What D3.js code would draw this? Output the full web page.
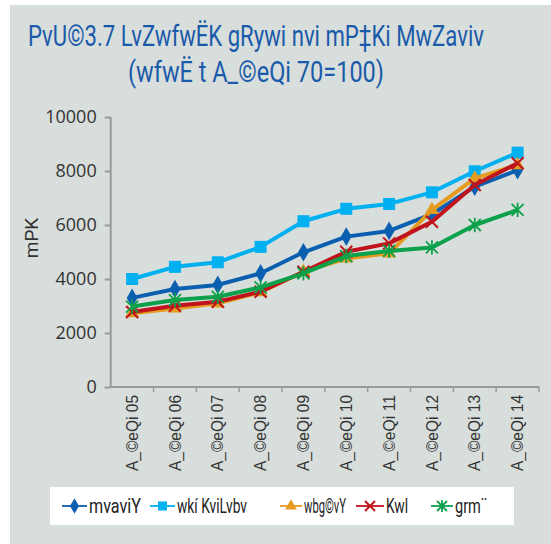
<!DOCTYPE html>
<html><head><meta charset="utf-8">
<script src="https://cdn.jsdelivr.net/npm/d3@7"></script>
<style>
html,body{margin:0;padding:0;background:#fff;}
svg{display:block;}
</style></head>
<body>
<script>
const categories = ["05","06","07","08","09","10","11","12","13","14"];
const yearPrefix = "A_©eQi ";
const seriesNames = ["mvaviY","wkí KviLvbv","wbg©vY","Kwl","grm¨"];
const generalValues   = [3300,3630,3780,4210,4990,5570,5780,6400,7420,8030];
const industryValues  = [4000,4450,4620,5190,6140,6600,6780,7210,7990,8680];
const constructValues = [2730,2910,3100,3510,4270,4760,4950,6560,7730,8220];
const agriValues      = [2780,3010,3160,3530,4270,5010,5320,6120,7480,8290];
const fishValues      = [2980,3220,3340,3690,4210,4850,5040,5170,6000,6560];
const yTicks = [0,2000,4000,6000,8000,10000];
const titleLine1 = "PvU©3.7 LvZwfwËK gRywi nvi mP‡Ki MwZaviv";
const titleLine2 = "(wfwË t A_©eQi 70=100)";
const yAxisLabel = "mPK";

const W = 551, H = 544;
const svg = d3.select("body").append("svg").attr("width", W).attr("height", H);
svg.append("rect").attr("x",10).attr("y",5).attr("width",W-10).attr("height",H-5).attr("fill","#d8dedb");

const condensed = "Roboto,'Liberation Sans Narrow',sans-serif";
// Title (narrow, tall glyphs: smaller font stretched vertically)
svg.append("text").attr("transform","translate(28,46) scale(1,1.3)").attr("fill","#1a5aaa")
  .attr("font-family",condensed).attr("font-size",22)
  .attr("textLength",456).attr("lengthAdjust","spacingAndGlyphs").text(titleLine1);
svg.append("text").attr("transform","translate(128,82) scale(1,1.3)").attr("fill","#1a5aaa")
  .attr("font-family",condensed).attr("font-size",22)
  .attr("textLength",256).attr("lengthAdjust","spacingAndGlyphs").text(titleLine2);

const x = d3.scaleBand().domain(categories).range([110.7,539]).padding(0);
const y = d3.scaleLinear().domain([0,10000]).range([387,117]);

// Y axis
const yAxis = svg.append("g").attr("transform","translate(110.7,0)")
  .call(d3.axisLeft(y).tickValues(yTicks).tickSize(6).tickPadding(8).tickFormat(d3.format("d")));
yAxis.select(".domain").attr("stroke","#9a9a9a").attr("stroke-width",2).attr("d","M0,387V117");
yAxis.selectAll(".tick line").attr("stroke","#9a9a9a").attr("stroke-width",2);
yAxis.selectAll(".tick text").attr("fill","#333").attr("font-family","'Open Sans',sans-serif").attr("font-size",18);

// X axis
const xAxis = svg.append("g").attr("transform","translate(0,387)")
  .call(d3.axisBottom(x).tickSize(0).tickFormat(d => yearPrefix + d));
xAxis.select(".domain").attr("stroke","#9a9a9a").attr("stroke-width",2).attr("d","M110.7,0H539");
xAxis.selectAll(".tick text")
  .attr("transform","rotate(-90)").attr("text-anchor","end")
  .attr("x",-8).attr("y",0).attr("dy","0.35em")
  .attr("fill","#333").attr("font-family","'Liberation Sans',Arial,sans-serif").attr("font-size",16)
  .attr("textLength",76).attr("lengthAdjust","spacingAndGlyphs");
xAxis.selectAll(".bnd").data(categories).enter().append("line").attr("class","bnd")
  .attr("x1",d=>x(d)+x.bandwidth()).attr("x2",d=>x(d)+x.bandwidth())
  .attr("y1",0).attr("y2",5).attr("stroke","#9a9a9a").attr("stroke-width",1.5);

// Y label
svg.append("text").attr("transform","translate(38,238) rotate(-90)").attr("text-anchor","middle")
  .attr("fill","#333").attr("font-family",condensed).attr("font-size",19).text(yAxisLabel);

const series = [
  {name: seriesNames[1], values: industryValues,  color:"#00b0f0", marker:"square"},
  {name: seriesNames[0], values: generalValues,   color:"#0a5fb0", marker:"diamond"},
  {name: seriesNames[2], values: constructValues, color:"#e59b1f", marker:"triangle"},
  {name: seriesNames[3], values: agriValues,      color:"#c0141c", marker:"x"},
  {name: seriesNames[4], values: fishValues,      color:"#0ca14a", marker:"star"}
];
const cx = d => x(d) + x.bandwidth()/2;
const line = d3.line().x((v,i)=>cx(categories[i])).y(v=>y(v));

function drawMarker(g, type, color, size) {
  if (type === "square") {
    g.append("rect").attr("x",-size/2).attr("y",-size/2).attr("width",size).attr("height",size).attr("fill",color);
  } else if (type === "diamond") {
    g.append("path").attr("d",d3.symbol(d3.symbolDiamond, size*size*0.7)()).attr("fill",color);
  } else if (type === "triangle") {
    g.append("path").attr("d",d3.symbol(d3.symbolTriangle, size*size*0.6)()).attr("fill",color);
  } else if (type === "x") {
    const s = size/2;
    g.append("path").attr("d",`M${-s},${-s}L${s},${s}M${-s},${s}L${s},${-s}`).attr("stroke",color).attr("stroke-width",2);
  } else if (type === "star") {
    const s = size/2;
    g.append("path").attr("d",`M${-s},${-s}L${s},${s}M${-s},${s}L${s},${-s}M0,${-s*1.2}V${s*1.2}`).attr("stroke",color).attr("stroke-width",1.8);
  }
}

series.forEach(s => {
  svg.append("path").datum(s.values).attr("d",line).attr("fill","none")
    .attr("stroke",s.color).attr("stroke-width",4).attr("stroke-linejoin","round");
  s.values.forEach((v,i) => {
    const g = svg.append("g").attr("transform",`translate(${cx(categories[i])},${y(v)})`);
    drawMarker(g, s.marker, s.color, 12);
  });
});

// Legend
svg.append("rect").attr("x",50).attr("y",487).attr("width",464).attr("height",38).attr("fill","#fff");
const legendItems = [
  {name: seriesNames[0], color:"#0a5fb0", marker:"diamond",  lx:62,  tx:89,  tw:52},
  {name: seriesNames[1], color:"#00b0f0", marker:"square",   lx:150, tx:177, tw:70},
  {name: seriesNames[2], color:"#e59b1f", marker:"triangle", lx:280, tx:304, tw:42},
  {name: seriesNames[3], color:"#c0141c", marker:"x",        lx:356, tx:386, tw:22},
  {name: seriesNames[4], color:"#0ca14a", marker:"star",     lx:431, tx:455, tw:32}
];
legendItems.forEach(it => {
  const w = it.tx - it.lx - 2;
  svg.append("line").attr("x1",it.lx).attr("x2",it.lx+w).attr("y1",506).attr("y2",506)
    .attr("stroke",it.color).attr("stroke-width",1.8);
  const g = svg.append("g").attr("transform",`translate(${it.lx+w/2},506)`);
  drawMarker(g, it.marker, it.color, it.marker==="square"?9:10);
  svg.append("text").attr("x",it.tx).attr("y",513).attr("fill","#222")
    .attr("font-family",condensed).attr("font-size",21)
    .attr("textLength",it.tw).attr("lengthAdjust","spacingAndGlyphs").text(it.name);
});
</script>
</body></html>
